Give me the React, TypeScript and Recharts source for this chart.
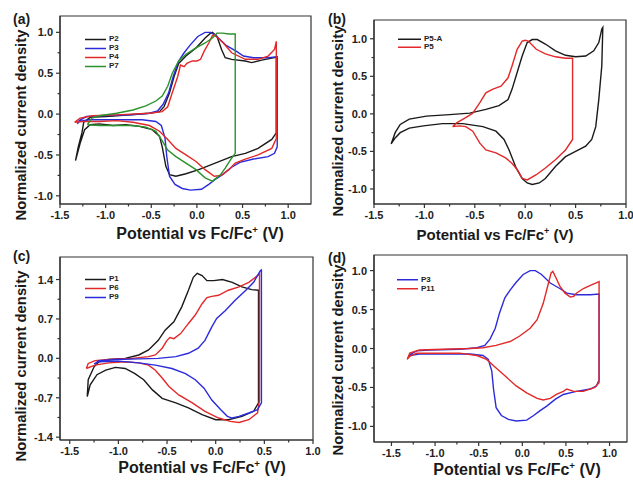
import React from 'react';
import { LineChart, Line, XAxis, YAxis, ReferenceArea, Legend } from 'recharts';

type Pt = [number, number];

// ---- panel (a) ----
const aP2: Pt[] = [
  [-1.33, -0.57], [-1.3, -0.4], [-1.26, -0.23], [-1.24, -0.1], [-1.17, -0.04], [-1.0, -0.03], [-0.88, -0.02],
  [-0.52, 0.01], [-0.41, 0.03], [-0.36, 0.09], [-0.3, 0.26], [-0.25, 0.46], [-0.2, 0.62], [-0.12, 0.71],
  [-0.01, 0.81], [0.09, 0.93], [0.15, 0.99], [0.17, 1.0], [0.22, 0.95], [0.27, 0.79], [0.31, 0.69],
  [0.38, 0.67], [0.53, 0.65], [0.6, 0.63], [0.71, 0.66], [0.85, 0.69], [0.87, 0.7], [0.87, -0.23],
  [0.82, -0.31], [0.67, -0.42], [0.53, -0.48], [0.38, -0.52], [0.2, -0.6], [0.02, -0.68], [-0.12, -0.73],
  [-0.23, -0.76], [-0.3, -0.74], [-0.34, -0.64], [-0.38, -0.4], [-0.41, -0.27], [-0.49, -0.19], [-0.63, -0.15],
  [-0.78, -0.13], [-0.92, -0.14], [-1.07, -0.12], [-1.17, -0.13], [-1.23, -0.19], [-1.28, -0.36], [-1.33, -0.57],
];
const P3: Pt[] = [
  [-1.31, -0.12], [-1.29, -0.08], [-1.21, -0.03], [-1.06, -0.02], [-0.72, -0.01], [-0.52, 0.01], [-0.43, 0.04],
  [-0.37, 0.12], [-0.31, 0.26], [-0.26, 0.46], [-0.2, 0.65], [-0.14, 0.75], [-0.07, 0.85], [0.01, 0.95],
  [0.09, 1.0], [0.15, 1.0], [0.22, 0.95], [0.32, 0.84], [0.43, 0.77], [0.51, 0.71], [0.62, 0.69], [0.78, 0.69],
  [0.88, 0.7], [0.88, -0.4], [0.85, -0.48], [0.78, -0.52], [0.62, -0.55], [0.47, -0.59], [0.38, -0.65],
  [0.28, -0.74], [0.2, -0.8], [0.13, -0.86], [0.05, -0.92], [-0.07, -0.93], [-0.16, -0.91], [-0.24, -0.86],
  [-0.3, -0.76], [-0.33, -0.52], [-0.35, -0.29], [-0.39, -0.14], [-0.45, -0.09], [-0.6, -0.07], [-0.91, -0.07],
  [-1.18, -0.07], [-1.29, -0.09], [-1.31, -0.12],
];
const aP4: Pt[] = [
  [-1.34, -0.1], [-1.28, -0.05], [-1.14, -0.02], [-0.88, -0.01], [-0.52, 0.01], [-0.38, 0.03], [-0.32, 0.09],
  [-0.27, 0.26], [-0.21, 0.46], [-0.18, 0.6], [-0.14, 0.58], [-0.11, 0.62], [-0.05, 0.65], [0.0, 0.65],
  [0.04, 0.67], [0.08, 0.77], [0.13, 0.87], [0.17, 0.96], [0.19, 0.97], [0.23, 0.93], [0.29, 0.87],
  [0.38, 0.75], [0.53, 0.67], [0.67, 0.67], [0.78, 0.71], [0.85, 0.79], [0.87, 0.89], [0.87, -0.3],
  [0.82, -0.42], [0.67, -0.5], [0.53, -0.55], [0.42, -0.6], [0.35, -0.68], [0.27, -0.75], [0.19, -0.76],
  [0.09, -0.68], [-0.01, -0.58], [-0.12, -0.5], [-0.23, -0.42], [-0.32, -0.31], [-0.41, -0.21], [-0.52, -0.14],
  [-0.7, -0.1], [-0.88, -0.08], [-1.07, -0.09], [-1.25, -0.09], [-1.34, -0.1],
];
const aP7: Pt[] = [
  [-1.2, -0.13], [-1.15, -0.05], [-1.07, -0.02], [-0.88, 0.01], [-0.7, 0.05], [-0.56, 0.1], [-0.45, 0.16],
  [-0.38, 0.22], [-0.32, 0.34], [-0.27, 0.5], [-0.2, 0.65], [-0.12, 0.73], [-0.01, 0.81], [0.09, 0.87],
  [0.17, 0.93], [0.22, 0.99], [0.28, 0.99], [0.35, 0.98], [0.42, 0.98], [0.42, -0.48], [0.38, -0.54],
  [0.31, -0.66], [0.26, -0.74], [0.17, -0.82], [0.09, -0.78], [-0.01, -0.68], [-0.12, -0.6], [-0.23, -0.52],
  [-0.32, -0.44], [-0.4, -0.29], [-0.45, -0.21], [-0.56, -0.16], [-0.7, -0.14], [-0.88, -0.14], [-1.07, -0.14],
  [-1.2, -0.13],
];

// ---- panel (b) ----
const bP5A: Pt[] = [
  [-1.33, -0.4], [-1.29, -0.25], [-1.24, -0.14], [-1.15, -0.07], [-0.98, -0.03], [-0.75, -0.01], [-0.55, 0.01],
  [-0.39, 0.06], [-0.26, 0.11], [-0.17, 0.19], [-0.13, 0.33], [-0.08, 0.55], [-0.03, 0.77], [0.02, 0.95],
  [0.07, 0.99], [0.12, 0.99], [0.2, 0.93], [0.3, 0.84], [0.4, 0.78], [0.5, 0.76], [0.6, 0.77], [0.68, 0.84],
  [0.73, 0.95], [0.76, 1.13], [0.77, 1.15], [0.76, 0.64], [0.73, 0.19], [0.7, -0.17], [0.66, -0.34],
  [0.6, -0.43], [0.5, -0.5], [0.4, -0.57], [0.3, -0.7], [0.2, -0.86], [0.14, -0.92], [0.07, -0.94],
  [0.02, -0.92], [-0.03, -0.86], [-0.09, -0.72], [-0.16, -0.48], [-0.21, -0.34], [-0.29, -0.23], [-0.42, -0.17],
  [-0.62, -0.13], [-0.82, -0.13], [-1.01, -0.16], [-1.15, -0.19], [-1.24, -0.25], [-1.29, -0.32], [-1.33, -0.4],
];
const bP5: Pt[] = [
  [-0.72, -0.17], [-0.68, -0.12], [-0.59, -0.05], [-0.52, 0.01], [-0.45, 0.15], [-0.39, 0.28], [-0.32, 0.33],
  [-0.24, 0.37], [-0.17, 0.48], [-0.13, 0.64], [-0.08, 0.86], [-0.03, 0.97], [0.0, 0.98], [0.03, 0.97],
  [0.11, 0.86], [0.2, 0.8], [0.3, 0.76], [0.4, 0.74], [0.47, 0.74], [0.47, -0.34], [0.4, -0.48], [0.3, -0.61],
  [0.2, -0.72], [0.11, -0.81], [0.02, -0.88], [-0.03, -0.86], [-0.08, -0.74], [-0.13, -0.66], [-0.19, -0.59],
  [-0.29, -0.52], [-0.39, -0.48], [-0.45, -0.39], [-0.52, -0.23], [-0.59, -0.17], [-0.65, -0.16], [-0.72, -0.17],
];

// ---- panel (c) ----
const cP1: Pt[] = [
  [-1.32, -0.68], [-1.31, -0.38], [-1.25, -0.15], [-1.2, -0.06], [-1.1, -0.02], [-0.93, 0.0], [-0.79, 0.06],
  [-0.69, 0.15], [-0.59, 0.32], [-0.52, 0.5], [-0.43, 0.65], [-0.35, 0.91], [-0.28, 1.21], [-0.23, 1.44],
  [-0.19, 1.51], [-0.14, 1.47], [-0.09, 1.38], [-0.02, 1.38], [0.07, 1.4], [0.17, 1.35], [0.27, 1.27],
  [0.37, 1.22], [0.44, 1.21], [0.44, -0.79], [0.39, -0.94], [0.27, -1.03], [0.13, -1.09], [0.0, -1.09],
  [-0.14, -1.0], [-0.28, -0.88], [-0.41, -0.79], [-0.55, -0.71], [-0.65, -0.56], [-0.74, -0.38], [-0.83, -0.27],
  [-0.93, -0.18], [-1.03, -0.16], [-1.13, -0.21], [-1.22, -0.29], [-1.29, -0.47], [-1.32, -0.68],
];
const cP6: Pt[] = [
  [-1.33, -0.18], [-1.31, -0.09], [-1.24, -0.04], [-1.1, -0.02], [-0.86, 0.0], [-0.69, 0.03], [-0.62, 0.06],
  [-0.55, 0.18], [-0.5, 0.32], [-0.47, 0.37], [-0.43, 0.35], [-0.36, 0.44], [-0.28, 0.62], [-0.21, 0.77],
  [-0.14, 0.97], [-0.09, 1.08], [-0.04, 1.1], [0.03, 1.12], [0.13, 1.21], [0.24, 1.27], [0.34, 1.35],
  [0.43, 1.47], [0.45, 1.5], [0.45, -0.74], [0.43, -0.97], [0.34, -1.09], [0.24, -1.14], [0.15, -1.12],
  [0.03, -1.06], [-0.11, -0.94], [-0.24, -0.79], [-0.38, -0.65], [-0.48, -0.5], [-0.55, -0.35], [-0.62, -0.21],
  [-0.69, -0.12], [-0.79, -0.08], [-0.93, -0.06], [-1.1, -0.08], [-1.24, -0.12], [-1.33, -0.18],
];
const cP9: Pt[] = [
  [-1.25, -0.1], [-1.2, -0.04], [-1.03, -0.02], [-0.79, -0.01], [-0.59, 0.0], [-0.41, 0.03], [-0.28, 0.09],
  [-0.18, 0.18], [-0.11, 0.32], [-0.04, 0.56], [0.01, 0.71], [0.1, 0.85], [0.2, 1.03], [0.31, 1.21],
  [0.39, 1.35], [0.46, 1.56], [0.47, 1.57], [0.47, -0.79], [0.43, -0.91], [0.34, -0.97], [0.24, -1.03],
  [0.17, -1.06], [0.12, -1.03], [0.05, -0.91], [-0.04, -0.74], [-0.12, -0.53], [-0.21, -0.38], [-0.31, -0.27],
  [-0.45, -0.18], [-0.62, -0.12], [-0.79, -0.08], [-1.0, -0.05], [-1.2, -0.06], [-1.25, -0.1],
];

// ---- panel (d) ----
const dP11: Pt[] = [
  [-1.32, -0.14], [-1.29, -0.06], [-1.18, -0.02], [-0.91, -0.01], [-0.6, 0.0], [-0.45, 0.01], [-0.3, 0.04],
  [-0.14, 0.09], [-0.03, 0.16], [0.09, 0.26], [0.17, 0.37], [0.24, 0.58], [0.3, 0.84], [0.33, 0.97],
  [0.35, 0.99], [0.38, 0.92], [0.43, 0.8], [0.49, 0.71], [0.55, 0.66], [0.59, 0.67], [0.62, 0.71], [0.7, 0.77],
  [0.8, 0.82], [0.86, 0.85], [0.88, 0.86], [0.88, -0.44], [0.83, -0.5], [0.7, -0.55], [0.59, -0.55],
  [0.51, -0.52], [0.47, -0.55], [0.39, -0.59], [0.32, -0.64], [0.24, -0.66], [0.17, -0.64], [0.05, -0.57],
  [-0.07, -0.48], [-0.18, -0.37], [-0.3, -0.25], [-0.41, -0.14], [-0.52, -0.09], [-0.72, -0.06], [-0.98, -0.06],
  [-1.21, -0.06], [-1.29, -0.1], [-1.32, -0.14],
];

// ticks
const halfTicks = [-1.5, -1.0, -0.5, 0, 0.5, 1.0];
const halfMinor = [-1.25, -0.75, -0.25, 0.25, 0.75];
const yHalfTicks = [-1.0, -0.5, 0, 0.5, 1.0];
const yHalfMinor = [-0.75, -0.25, 0.25, 0.75];
const cYTicks = [-1.4, -0.7, 0, 0.7, 1.4];
const cYMinor = [-1.05, -0.35, 0.35, 1.05];

const BLACK = '#1a1a1a';
const BLUE = '#2b2bdc';
const RED = '#e22828';
const GREEN = '#2b922b';
const AXIS = '#333';
const FONT = '"Liberation Sans", Arial, Helvetica, sans-serif';

const toData = (pts: Pt[]) => pts.map(([x, y]) => ({ x, y }));
const isIn = (list: number[], v: number) => list.some((m) => Math.abs(m - v) < 1e-6);

const makeXTick = (majors: number[]) => (props: any) => {
  const { x, y, payload } = props;
  const major = isIn(majors, payload.value);
  return (
    <g>
      <line x1={x} x2={x} y1={y} y2={y + (major ? 4 : 2.5)} stroke={AXIS} strokeWidth={1.2} />
      {major && (
        <text x={x} y={y + 15} textAnchor="middle" fontSize={11} fontWeight={700} fontFamily={FONT} fill="#222">
          {payload.value.toFixed(1)}
        </text>
      )}
    </g>
  );
};

const makeYTick = (majors: number[]) => (props: any) => {
  const { x, y, payload } = props;
  const major = isIn(majors, payload.value);
  return (
    <g>
      <line x1={x} x2={x - (major ? 4 : 2.5)} y1={y} y2={y} stroke={AXIS} strokeWidth={1.2} />
      {major && (
        <text x={x - 7} y={y + 4} textAnchor="end" fontSize={11} fontWeight={700} fontFamily={FONT} fill="#222">
          {payload.value.toFixed(1)}
        </text>
      )}
    </g>
  );
};

interface Series { name: string; color: string; pts: Pt[] }

// legend keeps the series order (the library sorts its payload by name)
const makeLegend = (series: Series[], lineLen: number, rowH: number) => () => (
  <div>
    {series.map((s) => (
      <div key={s.name} style={{ display: 'flex', alignItems: 'center', height: rowH }}>
        <svg width={lineLen} height={rowH}>
          <line x1={0} x2={lineLen} y1={rowH / 2} y2={rowH / 2} stroke={s.color} strokeWidth={1.5} />
        </svg>
        <span style={{ marginLeft: 3, fontSize: 8, fontWeight: 700, fontFamily: FONT, color: '#222', lineHeight: 1 }}>
          {s.name}
        </span>
      </div>
    ))}
  </div>
);

interface PanelProps {
  left: number; top: number; width: number; height: number;
  margin: { top: number; right: number; left: number; bottom: number };
  yWidth: number;
  xDomain: [number, number]; yDomain: [number, number];
  xMajor: number[]; xMinor: number[]; yMajor: number[]; yMinor: number[];
  series: Series[];
  legendPos: { left: number; top: number }; legendLine: number; legendRow: number;
}

function Panel(p: PanelProps) {
  return (
    <div style={{ position: 'absolute', left: p.left, top: p.top }}>
      <LineChart width={p.width} height={p.height} margin={p.margin} style={{ overflow: 'visible' }}>
        <XAxis
          type="number" dataKey="x" domain={p.xDomain} allowDataOverflow
          ticks={[...p.xMajor, ...p.xMinor]} interval={0} height={20}
          tickSize={0} tickMargin={0} tickLine={false}
          axisLine={{ stroke: AXIS, strokeWidth: 1.2 }}
          tick={makeXTick(p.xMajor)}
        />
        <YAxis
          type="number" dataKey="y" domain={p.yDomain} allowDataOverflow
          ticks={[...p.yMajor, ...p.yMinor]} interval={0} width={p.yWidth}
          tickSize={0} tickMargin={0} tickLine={false}
          axisLine={{ stroke: AXIS, strokeWidth: 1.2 }}
          tick={makeYTick(p.yMajor)}
        />
        <ReferenceArea
          x1={p.xDomain[0]} x2={p.xDomain[1]} y1={p.yDomain[0]} y2={p.yDomain[1]}
          fill="none" stroke={AXIS} strokeWidth={1.2} ifOverflow="visible"
        />
        <Legend
          layout="vertical" align="center" verticalAlign="middle"
          wrapperStyle={{ left: p.legendPos.left, top: p.legendPos.top, width: 80, height: 'auto' }}
          content={makeLegend(p.series, p.legendLine, p.legendRow)}
        />
        {p.series.map((s) => (
          <Line
            key={s.name} name={s.name} data={toData(s.pts)} dataKey="y" type="linear"
            stroke={s.color} strokeWidth={1.4} dot={false} activeDot={false}
            isAnimationActive={false}
          />
        ))}
      </LineChart>
    </div>
  );
}

const titleStyle: React.CSSProperties = {
  position: 'absolute', whiteSpace: 'nowrap', fontFamily: FONT, fontWeight: 700, color: '#1a1a1a', lineHeight: 1,
};

function YTitle({ cx, cy, size = 14.8 }: { cx: number; cy: number; size?: number }) {
  return (
    <div style={{ ...titleStyle, left: cx, top: cy, fontSize: size, transform: 'translate(-50%, -50%) rotate(-90deg)' }}>
      Normalized current density
    </div>
  );
}

function XTitle({ cx, cy, size = 16 }: { cx: number; cy: number; size?: number }) {
  return (
    <div style={{ ...titleStyle, left: cx, top: cy, fontSize: size, transform: 'translate(-50%, -50%)' }}>
      Potential vs Fc/Fc<sup style={{ fontSize: '0.6em', verticalAlign: 'super', lineHeight: 0 }}>+</sup> (V)
    </div>
  );
}

function Tag({ x, y, text }: { x: number; y: number; text: string }) {
  return <div style={{ ...titleStyle, left: x, top: y, fontSize: 14 }}>{text}</div>;
}

export default function App() {
  return (
    <div style={{ position: 'absolute', left: 0, top: 0, width: 633, height: 483, background: '#fff', overflow: 'hidden' }}>
      <style>{'svg.recharts-surface { overflow: visible; } .recharts-wrapper { overflow: visible; }'}</style>
      <Panel
        left={0} top={0} width={316} height={242}
        margin={{ top: 16, right: 5, left: 0, bottom: 18 }} yWidth={60}
        xDomain={[-1.5, 1.25]} yDomain={[-1.1, 1.2]}
        xMajor={halfTicks} xMinor={halfMinor} yMajor={yHalfTicks} yMinor={yHalfMinor}
        series={[
          { name: 'P2', color: BLACK, pts: aP2 },
          { name: 'P3', color: BLUE, pts: P3 },
          { name: 'P4', color: RED, pts: aP4 },
          { name: 'P7', color: GREEN, pts: aP7 },
        ]}
        legendPos={{ left: 85, top: 34.5 }} legendLine={21} legendRow={9}
      />
      <Panel
        left={316} top={0} width={317} height={242}
        margin={{ top: 20, right: 7, left: 0, bottom: 18 }} yWidth={58}
        xDomain={[-1.5, 1.0]} yDomain={[-1.2, 1.25]}
        xMajor={halfTicks} xMinor={halfMinor} yMajor={yHalfTicks} yMinor={yHalfMinor}
        series={[
          { name: 'P5-A', color: BLACK, pts: bP5A },
          { name: 'P5', color: RED, pts: bP5 },
        ]}
        legendPos={{ left: 82, top: 34.5 }} legendLine={23} legendRow={8.5}
      />
      <Panel
        left={0} top={242} width={316} height={241}
        margin={{ top: 15, right: 3, left: 0, bottom: 23 }} yWidth={60}
        xDomain={[-1.6, 1.0]} yDomain={[-1.45, 1.8]}
        xMajor={halfTicks} xMinor={halfMinor} yMajor={cYTicks} yMinor={cYMinor}
        series={[
          { name: 'P1', color: BLACK, pts: cP1 },
          { name: 'P6', color: RED, pts: cP6 },
          { name: 'P9', color: BLUE, pts: cP9 },
        ]}
        legendPos={{ left: 85, top: 32.5 }} legendLine={21} legendRow={9}
      />
      <Panel
        left={316} top={242} width={317} height={241}
        margin={{ top: 13, right: 6, left: 0, bottom: 21 }} yWidth={58}
        xDomain={[-1.7, 1.2]} yDomain={[-1.2, 1.2]}
        xMajor={halfTicks} xMinor={halfMinor} yMajor={yHalfTicks} yMinor={yHalfMinor}
        series={[
          { name: 'P3', color: BLUE, pts: P3 },
          { name: 'P11', color: RED, pts: dP11 },
        ]}
        legendPos={{ left: 81, top: 32.8 }} legendLine={21} legendRow={9.5}
      />

      <YTitle cx={21} cy={125} />
      <YTitle cx={338} cy={121} />
      <YTitle cx={21} cy={366} />
      <YTitle cx={338} cy={360} />
      <XTitle cx={200} cy={234} />
      <XTitle cx={495} cy={234} size={15} />
      <XTitle cx={202} cy={468} />
      <XTitle cx={517} cy={470} />

      <Tag x={13} y={12} text="(a)" />
      <Tag x={328} y={12} text="(b)" />
      <Tag x={13} y={249} text="(c)" />
      <Tag x={328} y={251} text="(d)" />
    </div>
  );
}
